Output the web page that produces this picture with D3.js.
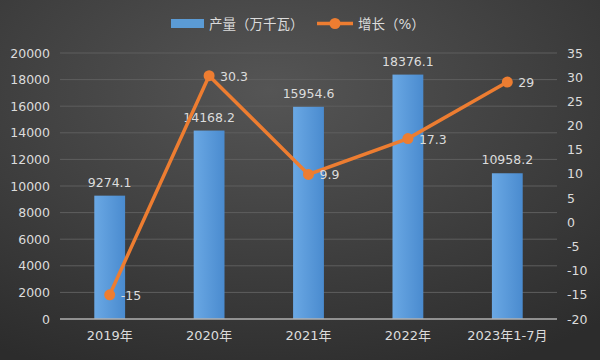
<!DOCTYPE html>
<html><head><meta charset="utf-8">
<script src="https://cdn.jsdelivr.net/npm/d3@7/dist/d3.min.js"></script>
<style>body{margin:0;background:#333}svg{display:block}text{font-family:"DejaVu Sans","Noto Sans CJK SC",sans-serif}</style>
</head><body><svg id="c" width="600" height="360"></svg>
<script>
const categories = ["2019年","2020年","2021年","2022年","2023年1-7月"];
const output = [9274.1,14168.2,15954.6,18376.1,10958.2];
const growth = [-15,30.3,9.9,17.3,29];
const leftTicks = [0,2000,4000,6000,8000,10000,12000,14000,16000,18000,20000];
const rightTicks = [-20,-15,-10,-5,0,5,10,15,20,25,30,35];
const seriesNames = ["产量（万千瓦）","增长（%）"];

const svg = d3.select("#c");
const W=600,H=360, L=60,R=557,T=53,B=319;
const FS=12.5, TC="#dcdcdc";
const defs = svg.append("defs");
const bg = defs.append("radialGradient").attr("id","bg").attr("cx","45%").attr("cy","25%").attr("r","85%");
bg.append("stop").attr("offset","0%").attr("stop-color","#555555");
bg.append("stop").attr("offset","100%").attr("stop-color","#2c2c2c");
const bar = defs.append("linearGradient").attr("id","bar").attr("x1","0").attr("x2","1");
bar.append("stop").attr("offset","0%").attr("stop-color","#6aa8e4");
bar.append("stop").attr("offset","100%").attr("stop-color","#4a8bcf");
svg.append("rect").attr("width",W).attr("height",H).attr("fill","url(#bg)");

const x = d3.scaleBand().domain(categories).range([L,R]).paddingInner(0.69).paddingOuter(0.345);
const xc = d3.scaleBand().domain(categories).range([L,R]);
const y = d3.scaleLinear().domain([0,20000]).range([B,T]);
const y2 = d3.scaleLinear().domain([-20,35]).range([B,T]);

svg.append("g").selectAll("line").data(leftTicks.slice(1)).join("line")
  .attr("x1",L).attr("x2",R).attr("y1",d=>y(d)).attr("y2",d=>y(d))
  .attr("stroke","#5e5e5e").attr("stroke-width",1);

const la = svg.append("g").attr("transform",`translate(${L},0)`)
  .call(d3.axisLeft(y).tickValues(leftTicks).tickFormat(d=>String(d)).tickSize(0).tickPadding(10));
la.select(".domain").remove();
la.selectAll("text").attr("fill",TC).attr("font-size",FS);
const ra = svg.append("g").attr("transform",`translate(${R},0)`)
  .call(d3.axisRight(y2).tickValues(rightTicks).tickFormat(d=>String(d)).tickSize(0).tickPadding(10));
ra.select(".domain").remove();
ra.selectAll("text").attr("fill",TC).attr("font-size",FS);

svg.append("g").selectAll("rect").data(output).join("rect")
  .attr("x",(d,i)=>x(categories[i])).attr("width",x.bandwidth())
  .attr("y",d=>y(d)).attr("height",d=>y(0)-y(d)).attr("fill","url(#bar)");
svg.append("g").selectAll("text").data(output).join("text")
  .attr("x",(d,i)=>x(categories[i])+x.bandwidth()/2).attr("y",d=>y(d)-9)
  .attr("text-anchor","middle").attr("fill",TC).attr("font-size",FS)
  .text(d=>d.toFixed(1));

svg.append("line").attr("x1",L).attr("x2",R).attr("y1",B).attr("y2",B).attr("stroke","#b0b0b0").attr("stroke-width",1.5);

const xa = svg.append("g").attr("transform",`translate(0,${B})`)
  .call(d3.axisBottom(xc).tickSize(0).tickPadding(12));
xa.select(".domain").remove();
xa.selectAll("text").attr("fill",TC).attr("font-size",13);

const cx = (i)=>xc(categories[i])+xc.bandwidth()/2;
svg.append("path").datum(growth)
  .attr("d",d3.line().x((d,i)=>cx(i)).y(d=>y2(d)))
  .attr("fill","none").attr("stroke","#ed7d31").attr("stroke-width",3.5);
svg.append("g").selectAll("circle").data(growth).join("circle")
  .attr("cx",(d,i)=>cx(i)).attr("cy",d=>y2(d)).attr("r",5.5).attr("fill","#ed7d31");
svg.append("g").selectAll("text").data(growth).join("text")
  .attr("x",(d,i)=>cx(i)+11).attr("y",d=>y2(d)+5)
  .attr("fill",TC).attr("font-size",FS).text(d=>String(d));

const lg = svg.append("g");
lg.append("rect").attr("x",171).attr("y",19).attr("width",33).attr("height",9).attr("fill","#5b9bd5");
lg.append("text").attr("x",209).attr("y",28.5).attr("fill",TC).attr("font-size",13.5).text(seriesNames[0]);
lg.append("line").attr("x1",317).attr("x2",353).attr("y1",23.5).attr("y2",23.5).attr("stroke","#ed7d31").attr("stroke-width",3.5);
lg.append("circle").attr("cx",335).attr("cy",23.5).attr("r",5.5).attr("fill","#ed7d31");
lg.append("text").attr("x",358).attr("y",28.5).attr("fill",TC).attr("font-size",13.5).text(seriesNames[1]);
</script></body></html>
